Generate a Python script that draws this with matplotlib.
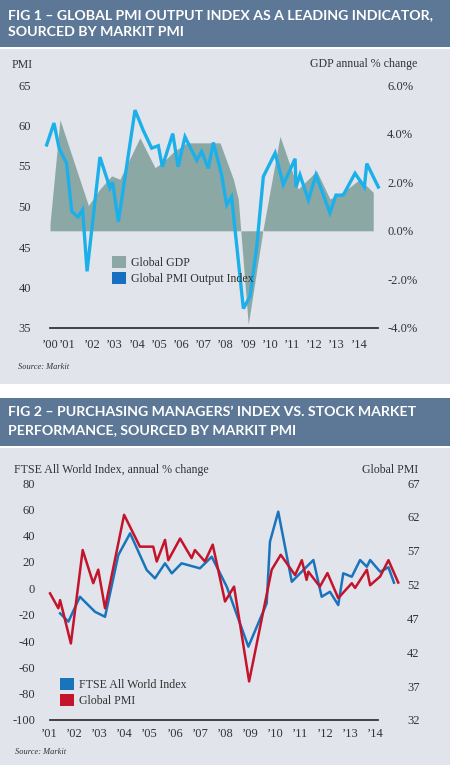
import matplotlib.pyplot as plt
from matplotlib.patches import Rectangle, Patch

# --- Fig 1 data: Global PMI Output Index (left axis) and Global GDP % (right axis) ---
pmi_years = [1999.94, 2000.27, 2000.50, 2000.84, 2001.07, 2001.35, 2001.56, 2001.76,
             2002.34, 2002.79, 2002.91, 2003.17, 2003.92, 2004.29, 2004.67, 2004.97,
             2005.15, 2005.62, 2005.86, 2006.17, 2006.70, 2006.92, 2007.22, 2007.45,
             2007.82, 2008.05, 2008.27, 2008.80, 2009.10, 2009.40, 2009.70, 2010.23,
             2010.60, 2011.13, 2011.17, 2011.35, 2011.73, 2012.07, 2012.70, 2012.97,
             2013.30, 2013.83, 2014.25, 2014.36, 2014.88]
pmi_values = [57.6, 60.3, 57.2, 55.3, 49.4, 48.7, 49.6, 42.0,
              56.1, 52.3, 53.0, 48.1, 61.9, 59.4, 57.2, 57.5,
              54.9, 59.0, 54.9, 58.6, 55.7, 56.8, 54.7, 57.9,
              53.9, 50.2, 51.2, 37.4, 38.9, 45.0, 53.7, 56.6,
              52.7, 55.9, 52.4, 53.9, 50.8, 53.9, 49.2, 51.4,
              51.4, 54.1, 52.4, 55.3, 52.4]

gdp_years = [2000.09, 2000.54, 2001.82, 2002.34, 2002.87, 2003.24, 2004.14, 2004.82,
             2005.18, 2005.63, 2006.25, 2007.75, 2008.35, 2008.57, 2009.02, 2009.68,
             2010.45, 2011.27, 2012.10, 2012.70, 2013.29, 2014.05, 2014.65]
gdp_values = [0.29, 4.57, 1.04, 1.72, 2.26, 2.12, 3.83, 2.60,
              2.82, 3.23, 3.62, 3.62, 2.12, 1.31, -3.86, 0.01,
              3.89, 1.72, 2.46, 1.31, 1.59, 2.12, 1.58]

fig1_ticks = [2000.1, 2000.86, 2002, 2003, 2004, 2005, 2006, 2007,
              2008, 2009, 2010, 2011, 2012, 2013, 2014]
fig1_tick_labels = ['\u201900', '\u201901', '\u201902', '\u201903', '\u201904', '\u201905',
                    '\u201906', '\u201907', '\u201908', '\u201909', '\u201910', '\u201911',
                    '\u201912', '\u201913', '\u201914']
pmi_ticks = [35, 40, 45, 50, 55, 60, 65]
gdp_ticks = [-4, -2, 0, 2, 4, 6]

# --- Fig 2 data: FTSE All World Index % (left axis) and Global PMI (right axis) ---
ftse_years = [2001.43, 2001.76, 2002.22, 2002.82, 2003.22, 2003.75, 2004.22, 2004.88,
              2005.21, 2005.61, 2005.88, 2006.27, 2007.00, 2007.47, 2008.07, 2008.93,
              2009.66, 2009.79, 2010.12, 2010.66, 2011.12, 2011.52, 2011.85, 2012.18,
              2012.51, 2012.71, 2013.05, 2013.38, 2013.65, 2013.78, 2014.18, 2014.51,
              2014.73]
ftse_values = [-19.0, -25.3, -6.4, -17.8, -21.6, 25.3, 41.8, 13.9,
               7.6, 19.0, 11.4, 19.0, 15.2, 24.0, 1.2, -44.3,
               -11.4, 35.4, 58.2, 5.0, 13.9, 21.5, -6.4, -2.6,
               -12.7, 11.4, 8.8, 21.5, 16.4, 21.5, 12.6, 16.0,
               4.3]

gpmi_years = [2001.03, 2001.36, 2001.43, 2001.56, 2001.86, 2002.33, 2002.75, 2002.95,
              2003.22, 2003.98, 2004.61, 2005.14, 2005.28, 2005.61, 2005.74, 2006.21,
              2006.67, 2006.80, 2007.20, 2007.51, 2008.00, 2008.36, 2008.96, 2009.86,
              2010.22, 2010.79, 2011.06, 2011.25, 2011.32, 2011.78, 2012.08, 2012.51,
              2013.05, 2013.18, 2013.65, 2013.78, 2014.18, 2014.51, 2014.90]
gpmi_values = [50.7, 48.5, 49.7, 47.8, 43.3, 57.1, 52.2, 54.2,
               48.5, 62.3, 57.6, 57.6, 55.4, 58.6, 55.6, 58.8,
               55.9, 57.1, 55.4, 57.9, 49.5, 51.7, 37.7, 54.2,
               56.4, 53.4, 55.6, 52.7, 53.9, 51.7, 53.7, 50.0,
               52.2, 51.5, 54.2, 51.9, 53.2, 55.6, 52.3]

fig2_ticks = list(range(2001, 2015))
fig2_tick_labels = ['\u2019%02d' % (y - 2000) for y in fig2_ticks]
ftse_ticks = [-100, -80, -60, -40, -20, 0, 20, 40, 60, 80]
gpmi_ticks = [32, 37, 42, 47, 52, 57, 62, 67]

# --- Style ---
W, H = 450, 765
HEADER = '#5c7896'
PANEL = '#e1e4eb'
TEXT = '#333333'
plt.rcParams['font.family'] = 'Liberation Serif'


def fx(px):
    return px / W


def fy(py):
    return 1 - py / H


def add_axes_px(fig, left, top, right, bottom):
    return fig.add_axes([fx(left), fy(bottom), (right - left) / W, (bottom - top) / H])


def style_axes(ax, ax2, xbounds, xpad):
    for a in (ax, ax2):
        for s in a.spines.values():
            s.set_visible(False)
        a.tick_params(length=0, labelsize=9, labelcolor=TEXT)
    ax.spines['bottom'].set_visible(True)
    ax.spines['bottom'].set_color(TEXT)
    ax.spines['bottom'].set_linewidth(1.3)
    ax.spines['bottom'].set_bounds(*xbounds)
    ax.tick_params(axis='x', pad=xpad)


fig = plt.figure(figsize=(W / 100, H / 100), dpi=100)
fig.patch.set_facecolor('white')

# background panels and header bands
fig.patches.append(Rectangle((0, fy(384)), 1, fy(49) - fy(384), transform=fig.transFigure,
                             facecolor=PANEL, edgecolor='none', zorder=-2))
fig.patches.append(Rectangle((0, fy(765)), 1, fy(448) - fy(765), transform=fig.transFigure,
                             facecolor=PANEL, edgecolor='none', zorder=-2))
fig.patches.append(Rectangle((0, fy(47)), 1, fy(0) - fy(47), transform=fig.transFigure,
                             facecolor=HEADER, edgecolor='none', zorder=-1))
fig.patches.append(Rectangle((0, fy(446)), 1, fy(398) - fy(446), transform=fig.transFigure,
                             facecolor=HEADER, edgecolor='none', zorder=-1))

title_kw = dict(family='Lato', weight='bold', color='white', fontsize=10.2, va='center', ha='left')
fig.text(fx(8), fy(15), 'FIG 1 \u2013 GLOBAL PMI OUTPUT INDEX AS A LEADING INDICATOR,', **title_kw)
fig.text(fx(8), fy(32), 'SOURCED BY MARKIT PMI', **title_kw)
fig.text(fx(8), fy(412), 'FIG 2 \u2013 PURCHASING MANAGERS\u2019 INDEX VS. STOCK MARKET', **title_kw)
fig.text(fx(8), fy(430), 'PERFORMANCE, SOURCED BY MARKIT PMI', **title_kw)

# --- Fig 1 ---
ax1 = add_axes_px(fig, 40, 85, 385, 328)
ax1b = ax1.twinx()
ax1b.fill_between(gdp_years, 0, gdp_values, color='#8ca8a5', linewidth=0)
ax1.plot(pmi_years, pmi_values, color='#1cb0ea', linewidth=2.4, solid_joinstyle='miter')
ax1.set_zorder(ax1b.get_zorder() + 1)
ax1.patch.set_visible(False)
ax1b.patch.set_visible(False)

ax1.set_xlim(1999.64, 2015.18)
ax1.set_ylim(35, 65)
ax1b.set_ylim(-3.92, 6.0)
ax1.set_xticks(fig1_ticks)
ax1.set_xticklabels(fig1_tick_labels)
ax1.set_yticks(pmi_ticks)
ax1.set_yticklabels([str(v) for v in pmi_ticks])
ax1b.set_yticks(gdp_ticks)
ax1b.set_yticklabels(['%.1f%%' % v for v in gdp_ticks])
style_axes(ax1, ax1b, (2000.09, 2014.86), 8)
ax1.tick_params(axis='y', pad=6.5)
ax1b.tick_params(axis='y', pad=1.5)

ax1.legend(handles=[Patch(facecolor='#8ca8a5', edgecolor='none', label='Global GDP'),
                    Patch(facecolor='#1670bf', edgecolor='none', label='Global PMI Output Index')],
           loc='upper left', bbox_to_anchor=(fx(112), fy(256)), bbox_transform=fig.transFigure,
           frameon=False, fontsize=8.6, handlelength=1.2, handleheight=1.2,
           handletextpad=0.35, labelspacing=0.25, borderpad=0, borderaxespad=0,
           labelcolor=TEXT)

fig.text(fx(12), fy(65), 'PMI', fontsize=8.6, color=TEXT, va='center')
fig.text(fx(417), fy(64), 'GDP annual % change', fontsize=8.6, color=TEXT, va='center', ha='right')
fig.text(fx(18), fy(367), 'Source: Markit', fontsize=6, style='italic', color=TEXT, va='center')

# --- Fig 2 ---
ax2 = add_axes_px(fig, 40, 483, 402, 720)
ax2b = ax2.twinx()
ax2.plot(ftse_years, ftse_values, color='#1a74bc', linewidth=1.8)
ax2b.plot(gpmi_years, gpmi_values, color='#c3142c', linewidth=1.8)
ax2.patch.set_visible(False)
ax2b.patch.set_visible(False)

ax2.set_xlim(2000.63, 2015.05)
ax2.set_ylim(-100, 80)
ax2b.set_ylim(32, 67)
ax2.set_xticks(fig2_ticks)
ax2.set_xticklabels(fig2_tick_labels)
ax2.set_yticks(ftse_ticks)
ax2.set_yticklabels([str(v) for v in ftse_ticks])
ax2b.set_yticks(gpmi_ticks)
ax2b.set_yticklabels([str(v) for v in gpmi_ticks])
style_axes(ax2, ax2b, (2001.03, 2014.09), 5.5)
ax2.tick_params(axis='y', pad=3.6)
ax2b.tick_params(axis='y', pad=3.6)

ax2b.legend(handles=[Patch(facecolor='#1a74bc', edgecolor='none', label='FTSE All World Index'),
                     Patch(facecolor='#c3142c', edgecolor='none', label='Global PMI')],
            loc='upper left', bbox_to_anchor=(fx(60), fy(678)), bbox_transform=fig.transFigure,
            frameon=False, fontsize=8.6, handlelength=1.2, handleheight=1.2,
            handletextpad=0.35, labelspacing=0.25, borderpad=0, borderaxespad=0,
            labelcolor=TEXT)

fig.text(fx(14), fy(470), 'FTSE All World Index, annual % change', fontsize=8.6, color=TEXT, va='center')
fig.text(fx(418), fy(470), 'Global PMI', fontsize=8.6, color=TEXT, va='center', ha='right')
fig.text(fx(15), fy(752), 'Source: Markit', fontsize=6, style='italic', color=TEXT, va='center')

fig.savefig('out.png', dpi=100)
